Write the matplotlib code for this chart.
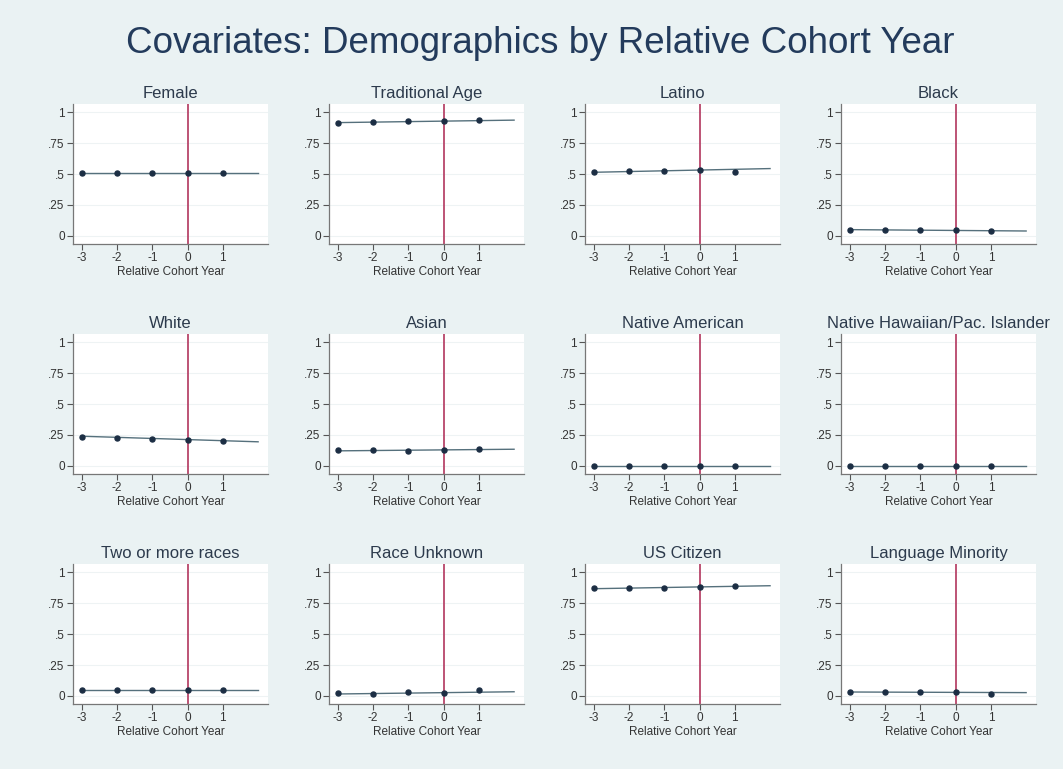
import numpy as np
import matplotlib
matplotlib.use("Agg")
import matplotlib.pyplot as plt

plt.rcParams['font.family'] = ['Liberation Sans', 'DejaVu Sans']

# data
years = [-3, -2, -1, 0, 1]
year_labels = ['-3', '-2', '-1', '0', '1']
tick_labels = ['0', '.25', '.5', '.75', '1']

titles = ['Female', 'Traditional Age', 'Latino', 'Black',
          'White', 'Asian', 'Native American', 'Native Hawaiian/Pac. Islander',
          'Two or more races', 'Race Unknown', 'US Citizen', 'Language Minority']

female = [0.51, 0.51, 0.51, 0.51, 0.51]
trad_age = [0.915, 0.92, 0.925, 0.93, 0.935]
latino = [0.516, 0.523, 0.523, 0.531, 0.52]
black = [0.052, 0.046, 0.049, 0.046, 0.041]
white = [0.237, 0.227, 0.221, 0.211, 0.200]
asian = [0.125, 0.125, 0.123, 0.128, 0.139]
native_am = [0.002, 0.002, 0.002, 0.002, 0.002]
nhpi = [0.002, 0.002, 0.002, 0.002, 0.002]
two_more = [0.048, 0.048, 0.048, 0.048, 0.048]
race_unk = [0.021, 0.016, 0.030, 0.024, 0.046]
us_cit = [0.871, 0.871, 0.871, 0.879, 0.887]
lang_min = [0.032, 0.032, 0.032, 0.030, 0.019]

series = [female, trad_age, latino, black, white, asian,
          native_am, nhpi, two_more, race_unk, us_cit, lang_min]

# fitted line, value at x=-3 and at x=2
fit_x = [-3, 2]
fit_start = [0.51, 0.915, 0.514, 0.051, 0.240, 0.122, 0.002, 0.002, 0.048, 0.016, 0.866, 0.032]
fit_end = [0.51, 0.935, 0.544, 0.040, 0.195, 0.135, 0.002, 0.002, 0.048, 0.034, 0.890, 0.027]

BG = '#eaf2f3'
fig = plt.figure(figsize=(10.63, 7.69), dpi=100, facecolor=BG)
fig.text(0.508, 0.944, 'Covariates: Demographics by Relative Cohort Year',
         ha='center', va='center', fontsize=26.5, color='#233b5c')

lefts = [0.0687, 0.3095, 0.5503, 0.7912]
bottoms = [0.6827, 0.3836, 0.0845]
w, h = 0.1834, 0.1825

for i, title in enumerate(titles):
    r, c = divmod(i, 4)
    ax = fig.add_axes([lefts[c], bottoms[r], w, h])
    ax.set_facecolor('white')
    ax.set_xlim(-3.25, 2.28)
    ax.set_ylim(-0.065, 1.068)
    for y in [0, 0.25, 0.5, 0.75, 1]:
        ax.axhline(y, color='#eef3f4', lw=0.8, zorder=0)
    ax.axvline(0, color='#b8456a', lw=1.3, zorder=1)
    ax.plot(fit_x, [fit_start[i], fit_end[i]], color='#55707c', lw=1.0, zorder=2)
    ax.plot(years, series[i], 'o', color='#1c2e44', ms=3.6, zorder=3)
    ax.set_yticks([0, 0.25, 0.5, 0.75, 1])
    ax.set_yticklabels(tick_labels)
    ax.set_xticks(years)
    ax.set_xticklabels(year_labels)
    ax.tick_params(axis='both', labelsize=8.5, colors='#555555', length=4,
                   width=0.8, labelcolor='#333333', pad=2)
    for s in ['top', 'right']:
        ax.spines[s].set_visible(False)
    for s in ['left', 'bottom']:
        ax.spines[s].set_color('#777777')
        ax.spines[s].set_linewidth(0.9)
    ax.set_xlabel('Relative Cohort Year', fontsize=8.5, color='#333333', labelpad=1)
    ax.set_title(title, fontsize=12, color='#2c3a4c', pad=4)

fig.savefig('out.png', dpi=100, facecolor=BG)
